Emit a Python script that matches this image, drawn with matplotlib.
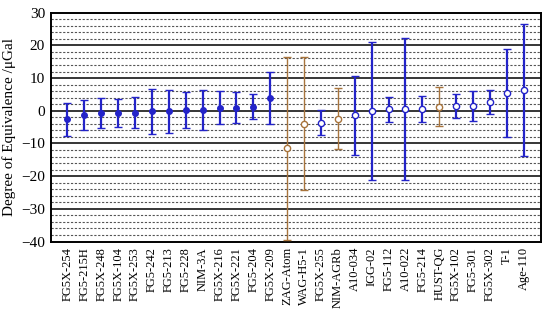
import numpy as np
import matplotlib.pyplot as plt

# ==========================================
# data
# ==========================================
labels = ['FG5X-254', 'FG5-215H', 'FG5X-248', 'FG5X-104', 'FG5X-253',
          'FG5-242', 'FG5-213', 'FG5-228', 'NIM-3A', 'FG5X-216',
          'FG5X-221', 'FG5-204', 'FG5X-209', 'ZAG-Atom', 'WAG-H5-1',
          'FG5X-255', 'NIM-AGRb', 'A10-034', 'IGG-02', 'FG5-112',
          'A10-022', 'FG5-214', 'HUST-QG', 'FG5X-102', 'FG5-301',
          'FG5X-302', 'T-1', 'Age-110']
doe = [-2.6, -1.2, -0.8, -0.6, -0.6, -0.2, -0.2, 0.3, 0.3, 1.0,
       1.0, 1.3, 3.9, -11.5, -3.9, -3.6, -2.4, -1.4, 0.0, 0.4,
       0.5, 0.6, 1.3, 1.4, 1.6, 2.6, 5.4, 6.3]
unc = [5.0, 4.6, 4.6, 4.3, 4.8, 6.8, 6.5, 5.6, 6.2, 5.0,
       4.6, 3.8, 7.9, 28.0, 20.3, 3.9, 9.3, 12.1, 21.1, 3.7,
       21.7, 3.9, 6.0, 3.7, 4.6, 3.7, 13.5, 20.2]
# 'k' = key comparison (filled), 'b' = blue open, 'r' = brown open
kind = ['k'] * 13 + ['r', 'r', 'b', 'r', 'b', 'b', 'b',
                     'b', 'b', 'r', 'b', 'b', 'b', 'b', 'b']

BLUE = '#2323c8'
BROWN = '#a8743c'

plt.rcParams['font.family'] = ['Liberation Serif', 'DejaVu Serif']

fig = plt.figure(figsize=(5.5, 3.26), dpi=100)
ax = fig.add_axes([0.092, 0.259, 0.891, 0.702])

x = np.arange(1, len(labels) + 1)
for xi, v, e, k in zip(x, doe, unc, kind):
    col = BROWN if k == 'r' else BLUE
    face = BLUE if k == 'k' else 'white'
    lw = 1.0 if k == 'r' else 1.6
    ax.errorbar(xi, v, yerr=e, fmt='o', color=col, mfc=face, mec=col,
                ms=4 if k == 'k' else 4.5, mew=1.0, elinewidth=lw,
                capsize=3, capthick=lw, zorder=3)

# grid: solid every 10, dashed every 2
for yv in range(-38, 30, 2):
    if yv % 10 == 0:
        ax.axhline(yv, color='black', lw=1.1, zorder=1)
    else:
        ax.axhline(yv, color='#555555', lw=0.8, ls=(0, (2, 1.5)), zorder=1)

ax.set_xlim(0, len(labels) + 1)
ax.set_ylim(-40, 30)
ax.set_yticks(range(-40, 31, 10))
ax.set_xticks(x)
ax.set_xticklabels(labels, rotation=90, fontsize=9)
ax.tick_params(axis='both', length=0, pad=4)
ax.tick_params(axis='y', labelsize=11)
ax.set_ylabel('Degree of Equivalence /\u03bcGal', fontsize=11, labelpad=4)

for s in ax.spines.values():
    s.set_linewidth(1.4)

fig.savefig('out.png', dpi=100)
